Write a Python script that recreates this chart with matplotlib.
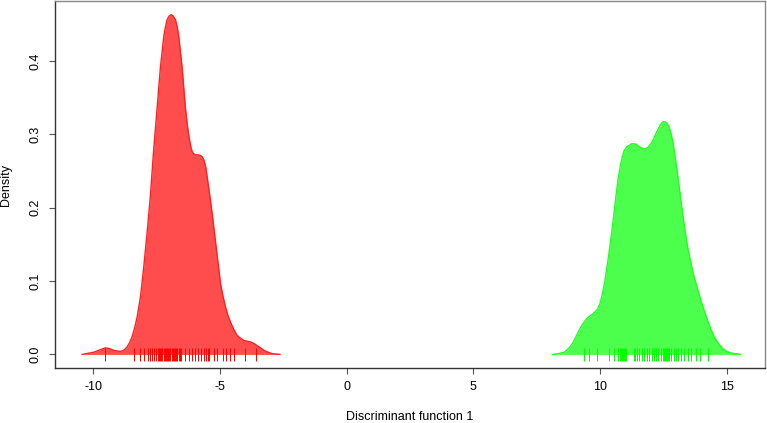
import matplotlib
matplotlib.use("Agg")
import matplotlib.pyplot as plt

plt.rcParams["font.family"] = ["Liberation Sans", "DejaVu Sans"]

# Density curve of group 1
red_x = [-10.43, -9.97, -9.75, -9.51, -9.35, -9.19, -8.92, -8.78, -8.66, -8.56, -8.46,
         -8.36, -8.26, -8.13, -8.00, -7.87, -7.74, -7.61, -7.47, -7.34, -7.21,
         -7.14, -7.08, -7.00, -6.92, -6.84, -6.75, -6.68, -6.62, -6.49, -6.36,
         -6.29, -6.22, -6.15, -6.09, -6.02, -5.96, -5.86, -5.76, -5.69, -5.63,
         -5.56, -5.50, -5.37, -5.24, -5.10, -4.97, -4.88, -4.78, -4.68, -4.58,
         -4.45, -4.32, -4.18, -4.05, -3.92, -3.79, -3.66, -3.53, -3.40, -3.26,
         -3.10, -2.93, -2.63]
red_y = [0.0, 0.003, 0.006, 0.009, 0.008, 0.0055, 0.004, 0.006, 0.010, 0.016, 0.024,
         0.036, 0.051, 0.078, 0.119, 0.165, 0.215, 0.278, 0.337, 0.392, 0.433,
         0.447, 0.456, 0.461, 0.463, 0.461, 0.456, 0.446, 0.433, 0.392, 0.337,
         0.315, 0.297, 0.284, 0.276, 0.273, 0.272, 0.272, 0.271, 0.269, 0.265,
         0.256, 0.242, 0.210, 0.174, 0.133, 0.096, 0.080, 0.065, 0.053, 0.044,
         0.034, 0.026, 0.022, 0.019, 0.018, 0.017, 0.015, 0.012, 0.009, 0.0055,
         0.003, 0.001, 0.0]

# Density curve of group 2
green_x = [8.12, 8.35, 8.58, 8.75, 8.91, 9.04, 9.17, 9.30, 9.43, 9.57, 9.70,
           9.80, 9.90, 10.00, 10.09, 10.19, 10.29, 10.37, 10.45, 10.54, 10.62,
           10.70, 10.79, 10.87, 10.95, 11.05, 11.15, 11.24, 11.32, 11.43, 11.54,
           11.65, 11.76, 11.88, 12.00, 12.10, 12.20, 12.30, 12.40, 12.48, 12.55,
           12.63, 12.72, 12.80, 12.88, 12.96, 13.05, 13.15, 13.25, 13.35, 13.45,
           13.58, 13.71, 13.84, 13.97, 14.10, 14.24, 14.37, 14.50, 14.66, 14.83,
           15.00, 15.16, 15.53]
green_y = [0.0, 0.001, 0.003, 0.008, 0.015, 0.024, 0.033, 0.041, 0.047, 0.052, 0.055,
           0.058, 0.062, 0.070, 0.083, 0.101, 0.124, 0.144, 0.165, 0.191, 0.215,
           0.237, 0.256, 0.269, 0.278, 0.283, 0.285, 0.287, 0.287, 0.286, 0.283,
           0.281, 0.280, 0.282, 0.287, 0.293, 0.301, 0.308, 0.314, 0.317, 0.317,
           0.315, 0.310, 0.300, 0.287, 0.268, 0.246, 0.219, 0.192, 0.168, 0.146,
           0.124, 0.105, 0.089, 0.074, 0.060, 0.046, 0.034, 0.024, 0.015, 0.008,
           0.004, 0.002, 0.0]

# Rug (individual observations)
red_rug = [-9.51, -8.37, -8.16, -8.00, -7.84, -7.76, -7.67, -7.61, -7.51, -7.45,
           -7.40, -7.36, -7.31, -7.27, -7.22, -7.18, -7.13, -7.08, -7.04, -6.99,
           -6.95, -6.90, -6.86, -6.81, -6.77, -6.72, -6.67, -6.62, -6.57, -6.52,
           -6.36, -6.22, -6.09, -5.96, -5.87, -5.76, -5.63, -5.54, -5.47, -5.41,
           -5.21, -5.10, -4.88, -4.75, -4.58, -4.45, -3.99, -3.59]
green_rug = [9.37, 9.57, 9.87, 10.36, 10.55, 10.69, 10.78, 10.82, 10.86, 10.90,
             10.94, 10.98, 11.03, 11.32, 11.37, 11.45, 11.54, 11.63, 11.74, 11.84,
             11.93, 12.03, 12.11, 12.20, 12.29, 12.40, 12.46, 12.50, 12.54, 12.58,
             12.62, 12.66, 12.71, 12.79, 12.90, 12.99, 13.08, 13.19, 13.32, 13.45,
             13.58, 13.78, 13.94, 14.26]

x_ticks = [-10, -5, 0, 5, 10, 15]
y_ticks = [0.0, 0.1, 0.2, 0.3, 0.4]
y_tick_labels = ["0.0", "0.1", "0.2", "0.3", "0.4"]

W, H = 767, 423
fig = plt.figure(figsize=(W / 100, H / 100), dpi=100)
ax = fig.add_axes([55 / W, 55 / H, 710 / W, 367 / H])

ax.fill_between(red_x, red_y, 0, color="#FF4D4D", linewidth=0)
ax.plot(red_x, red_y, color="#FF2020", lw=1.0)
ax.fill_between(green_x, green_y, 0, color="#4DFF4D", linewidth=0)
ax.plot(green_x, green_y, color="#20FF20", lw=1.0)

ax.vlines(red_rug, -0.0085, 0.0082, color="#FF0000", lw=0.7)
ax.vlines(green_rug, -0.0085, 0.0082, color="#00FF00", lw=0.7)

ax.set_xlim(-11.5, 16.5)
ax.set_ylim(-0.0185, 0.4815)
ax.set_xticks(x_ticks)
ax.set_xticklabels([str(t) for t in x_ticks])
ax.set_yticks(y_ticks)
ax.set_yticklabels(y_tick_labels, rotation=90, va="center")

ax.tick_params(axis="both", direction="out", length=4, width=0.8,
               color="#555555", labelsize=9, labelcolor="black")
ax.tick_params(axis="x", pad=5)
ax.tick_params(axis="y", pad=6)

for s in ["left", "bottom"]:
    ax.spines[s].set_color("#333333")
    ax.spines[s].set_linewidth(1.0)
for s in ["top", "right"]:
    ax.spines[s].set_color("#888888")
    ax.spines[s].set_linewidth(1.0)

ax.set_xlabel("Discriminant function 1", fontsize=9, labelpad=13)
ax.set_ylabel("Density", fontsize=9, labelpad=12)

fig.savefig("out.png", dpi=100)
